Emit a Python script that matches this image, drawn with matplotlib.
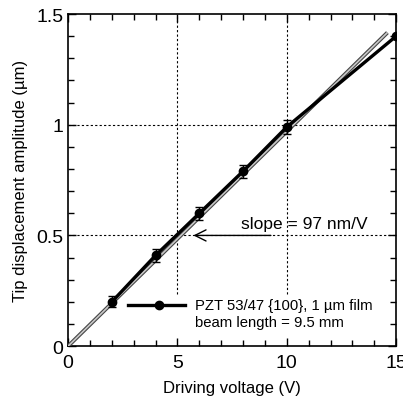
import matplotlib

matplotlib.use("Agg")
import matplotlib.pyplot as plt
import numpy as np
from matplotlib.ticker import MultipleLocator

plt.rcParams["font.family"] = ["Liberation Sans", "DejaVu Sans"]

voltage = [2, 4, 6, 8, 10, 15]
displacement = [0.20, 0.41, 0.60, 0.79, 0.99, 1.40]
disp_err = [0.025, 0.03, 0.03, 0.03, 0.03, 0.0]

slope_nm_per_v = 97
fit_range = [0, 14.6]

fig = plt.figure(figsize=(4.03, 4.06), dpi=100)
ax = fig.add_axes([0.169, 0.145, 0.814, 0.818])

# linear fit drawn as an outlined light line
fit_x = np.array(fit_range)
fit_y = fit_x * slope_nm_per_v / 1000.0
ax.plot(fit_x, fit_y, color="#444444", linewidth=2.8, solid_capstyle="butt", zorder=3)
ax.plot(fit_x, fit_y, color="#c8c8c8", linewidth=1.2, solid_capstyle="butt", zorder=4)

# measured data
ax.errorbar(voltage, displacement, yerr=disp_err, color="black", linewidth=2.4,
            marker="o", markersize=6, elinewidth=1, capsize=3, capthick=1, zorder=5)

# reference guides
dots = (0, (2, 2))
ax.axvline(5, ymin=0.157, ymax=1, color="black", linestyle=dots, linewidth=0.8)
ax.axvline(10, ymin=0.157, ymax=1, color="black", linestyle=dots, linewidth=0.8)
ax.axhline(0.5, color="black", linestyle=dots, linewidth=0.8)
ax.axhline(1.0, color="black", linestyle=dots, linewidth=0.8)

ax.annotate("", xy=(5.6, 0.5), xytext=(9.4, 0.5),
            arrowprops=dict(arrowstyle="->", color="black", linewidth=1,
                            mutation_scale=20), zorder=6)
ax.text(7.9, 0.555, f"slope = {slope_nm_per_v} nm/V", fontsize=12.5, va="center", ha="left")

# legend entry
ax.plot([2.75, 5.35], [0.185, 0.185], color="black", linewidth=2.4)
ax.plot([4.15], [0.185], "o", color="black", markersize=6)
ax.text(5.8, 0.185, "PZT 53/47 {100}, 1 µm film", fontsize=10.7, va="center")
ax.text(5.8, 0.108, "beam length = 9.5 mm", fontsize=10.7, va="center")

ax.set_xlim(0, 15)
ax.set_ylim(0, 1.5)
ax.xaxis.set_major_locator(MultipleLocator(5))
ax.xaxis.set_minor_locator(MultipleLocator(1))
ax.yaxis.set_major_locator(MultipleLocator(0.5))
ax.yaxis.set_minor_locator(MultipleLocator(0.1))
ax.xaxis.set_major_formatter(plt.FuncFormatter(lambda v, p: f"{v:g}"))
ax.yaxis.set_major_formatter(plt.FuncFormatter(lambda v, p: f"{v:g}"))
ax.tick_params(which="both", direction="in", top=True, right=True, labelsize=14)
ax.tick_params(which="major", length=6, width=1)
ax.tick_params(which="minor", length=4, width=1)
ax.tick_params(axis="x", which="major", pad=6)
for spine in ax.spines.values():
    spine.set_linewidth(1.2)

ax.set_xlabel("Driving voltage (V)", fontsize=12, labelpad=6)
ax.set_ylabel("Tip displacement amplitude (µm)", fontsize=12, labelpad=6)

fig.savefig("out.png", dpi=100)
